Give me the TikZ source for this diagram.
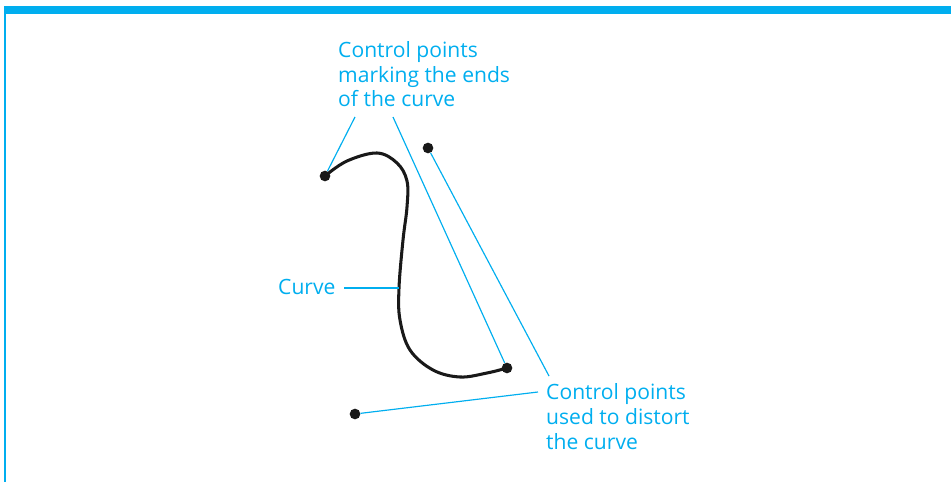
\documentclass[tikz,border=0pt]{standalone}
\usepackage{fontspec}
\setmainfont{Open Sans}
\usetikzlibrary{positioning}
\definecolor{leadcyan}{RGB}{0,174,239}

\begin{document}
\begin{tikzpicture}[x=0.03cm, y=-0.03cm,
  dot/.style={circle, fill=black!90, inner sep=0pt, minimum size=0.32cm},
  lbl/.style={font=\fontsize{18}{21.3}\selectfont, text=leadcyan, align=left, inner sep=0pt, anchor=base west},
  leader/.style={draw=leadcyan, line width=1pt}]
\useasboundingbox (0,0) rectangle (951,482);

% Frame
\fill[leadcyan] (4,6) rectangle (951,14);
\fill[leadcyan] (4,14) rectangle (6,482);

% Control points
\node (endA) at (325,176) [dot] {};
\node (endB) at (507,368) [dot] {};
\node (ctrlA) at (428,148) [dot] {};
\node (ctrlB) at (355,414) [dot] {};

% The curve
\draw[line width=2.6pt, black!90, line cap=round] plot[smooth, tension=0.6] coordinates {(endA.center) (347,161) (377,153) (397,163) (407,181) (407,207) (403,240) (399,288) (400,320) (410,350) (433,370) (460,377) (487,373) (endB.center)};
\coordinate (oncurve) at (399,288);

% Labels (base = last line)
\node (endsLbl) at (338,107) [lbl] {Control points\\marking the ends\\of the curve};
\node (ctrlLbl) at (546,449) [lbl] {Control points\\used to distort\\the curve};
\node (curveLbl) at (278,294) [lbl] {Curve};

% Leaders
\coordinate (endsFootA) at (355,117);
\coordinate (endsFootB) at (393,117);
\coordinate (ctrlFootA) at (549,376);
\coordinate (ctrlFootB) at (538,392);
\draw[leader] (endsFootA) -- (endA);
\draw[leader] (endsFootB) -- (endB);
\draw[leader] (ctrlA) -- (ctrlFootA);
\draw[leader] (ctrlB) -- (ctrlFootB);
\draw[leader] (344,288) -- (oncurve);
\end{tikzpicture}
\end{document}
